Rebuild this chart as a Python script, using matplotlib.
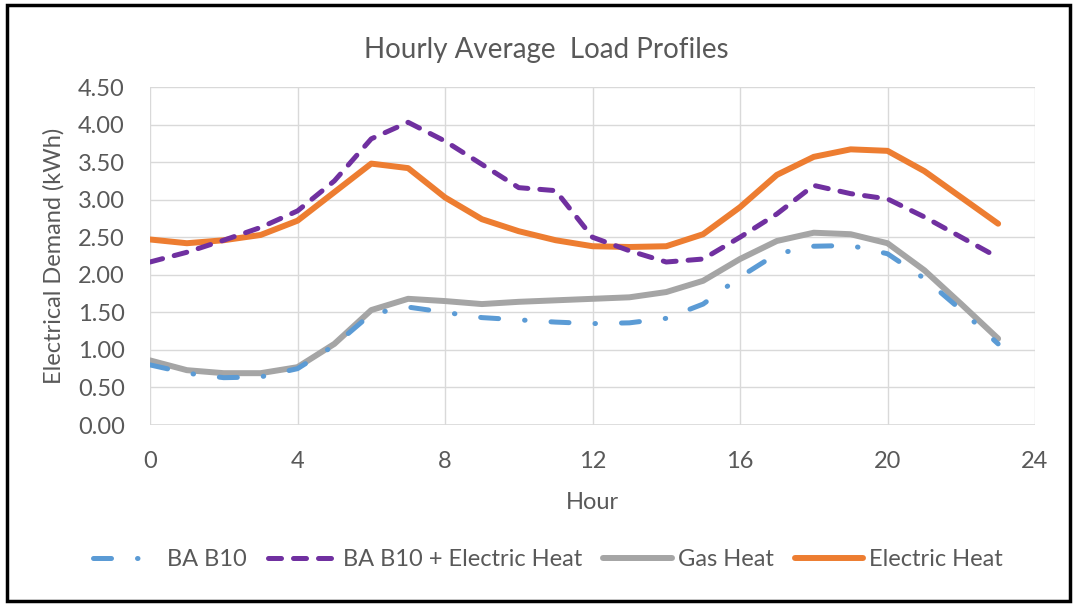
import matplotlib
matplotlib.use("Agg")
import matplotlib.pyplot as plt
from matplotlib.patches import Rectangle

hours = list(range(24))

ba_b10 = [0.80, 0.69, 0.63, 0.64, 0.75, 1.06, 1.48, 1.57, 1.50, 1.43, 1.40, 1.37,
          1.35, 1.36, 1.42, 1.61, 1.97, 2.28, 2.38, 2.39, 2.28, 1.95, 1.53, 1.08]
ba_b10_elec = [2.17, 2.30, 2.46, 2.63, 2.85, 3.25, 3.81, 4.03, 3.78, 3.47, 3.16, 3.12,
               2.50, 2.32, 2.17, 2.21, 2.50, 2.81, 3.19, 3.08, 3.01, 2.77, 2.50, 2.23]
gas_heat = [0.86, 0.73, 0.69, 0.69, 0.77, 1.08, 1.53, 1.68, 1.65, 1.61, 1.64, 1.66,
            1.68, 1.70, 1.77, 1.92, 2.21, 2.45, 2.56, 2.54, 2.42, 2.06, 1.61, 1.15]
elec_heat = [2.47, 2.42, 2.46, 2.53, 2.72, 3.10, 3.48, 3.42, 3.03, 2.74, 2.58, 2.46,
             2.38, 2.37, 2.38, 2.54, 2.90, 3.33, 3.57, 3.67, 3.65, 3.38, 3.03, 2.68]

labels = ["BA B10", "BA B10 + Electric Heat", "Gas Heat", "Electric Heat"]
x_ticks = [0, 4, 8, 12, 16, 20, 24]
y_ticks = [0, 0.5, 1.0, 1.5, 2.0, 2.5, 3.0, 3.5, 4.0, 4.5]

TEXT = "#595959"
plt.rcParams["font.family"] = ["Lato", "DejaVu Sans"]

fig = plt.figure(figsize=(10.77, 6.05), dpi=100)
ax = fig.add_axes([150 / 1077, 1 - 425 / 605, 885 / 1077, 338 / 605])

ax.plot(hours, ba_b10, color="#5B9BD5", lw=3.6, dashes=(3.6, 5.2, 0.1, 5.2),
        dash_capstyle="round", label=labels[0], zorder=3)
ax.plot(hours, ba_b10_elec, color="#7030A0", lw=3.6, dashes=(2.6, 2.4),
        dash_capstyle="round", label=labels[1], zorder=3)
ax.plot(hours, gas_heat, color="#A5A5A5", lw=4.3, solid_capstyle="round",
        label=labels[2], zorder=2)
ax.plot(hours, elec_heat, color="#ED7D31", lw=4.3, solid_capstyle="round",
        label=labels[3], zorder=2)

ax.set_xlim(0, 24)
ax.set_ylim(0, 4.5)
ax.set_xticks(x_ticks)
ax.set_yticks(y_ticks)
ax.set_yticklabels([f"{v:.2f}" for v in y_ticks])
ax.grid(True, color="#D9D9D9", lw=1)
for s in ax.spines.values():
    s.set_visible(False)
ax.axhline(0, color="#D9D9D9", lw=1.2)
ax.tick_params(length=0, labelsize=17, colors=TEXT)
ax.tick_params(axis="y", pad=18)
ax.tick_params(axis="x", pad=19)

ax.set_xlabel("Hour", fontsize=17, color=TEXT, labelpad=14)
ax.set_ylabel("Electrical Demand (kWh)", fontsize=17, color=TEXT, labelpad=10)
fig.text(546 / 1077, 1 - 50 / 605, "Hourly Average  Load Profiles", fontsize=20,
         color=TEXT, ha="center", va="center")

fig.legend(loc="center", bbox_to_anchor=(548 / 1077, 1 - 560 / 605), ncol=4,
           frameon=False, fontsize=17, labelcolor=TEXT, handlelength=2.9,
           handletextpad=0.25, columnspacing=0.9)

fig.patches.append(Rectangle((7 / 1077, 4 / 605), 1063 / 1077, 596 / 605,
                             transform=fig.transFigure, fill=False,
                             edgecolor="black", lw=2.5))

fig.savefig("out.png", dpi=100)
